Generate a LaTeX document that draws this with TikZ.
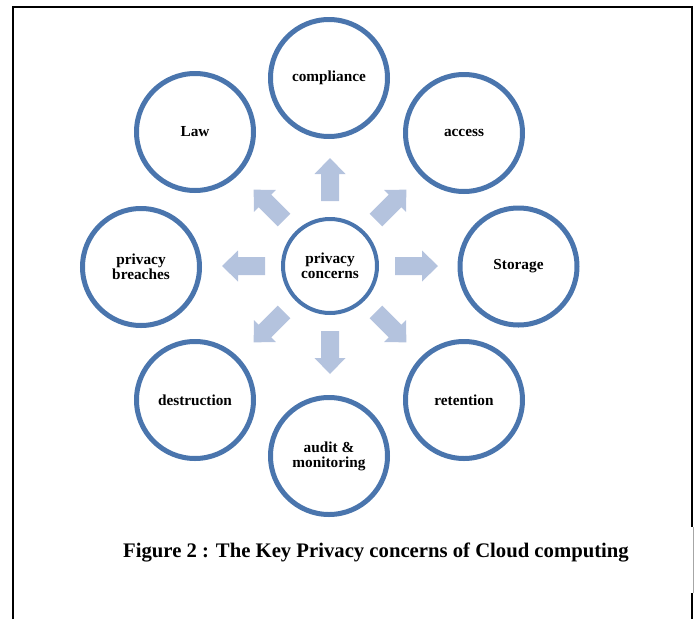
\documentclass[tikz,border=0pt]{standalone}
\usepackage{fontspec}
\setmainfont{Liberation Serif}
\definecolor{ringblue}{RGB}{74,117,173}
\definecolor{arrowblue}{RGB}{180,195,222}
\tikzset{
  ring/.style={circle, draw=ringblue, line width=5pt, minimum size=117pt, inner sep=0pt,
    align=center, font=\fontsize{15.3}{15}\selectfont\bfseries},
  hubring/.style={ring, line width=4pt, minimum size=94pt},
  blockarrow/.style={fill=arrowblue, draw=none},
  frameline/.style={line width=1.7pt, black},
}
\begin{document}
\begin{tikzpicture}[x=1pt,y=-1pt]
\useasboundingbox (0,0) rectangle (694,619);
% frame
\draw[frameline] (12.7,619) -- (12.7,7.3) -- (691.7,7.3) -- (691.7,527);
\draw[gray!70, line width=0.6pt] (693,527) -- (693,593);
\draw[frameline] (691.7,593) -- (691.7,619);
% nodes
\node[hubring] (hub) at (330,266) {privacy\\concerns};
\node[ring] (compliance) at (329,78) {compliance};
\node[ring] (access) at (464,133) {access};
\node[ring] (storage) at (518.5,266.5) {Storage};
\node[ring] (retention) at (464,400) {retention};
\node[ring] (audit) at (329,456) {audit \&\\monitoring};
\node[ring] (destruction) at (195,400) {destruction};
\node[ring] (breaches) at (141,267) {privacy\\breaches};
\node[ring] (law) at (195,132) {Law};
% block arrows
\foreach \a in {0,45,...,315}{
  \fill[blockarrow, shift={(hub.center)}, rotate=\a]
    (65,-9) -- (92,-9) -- (92,-15.5) -- (108,0) -- (92,15.5) -- (92,9) -- (65,9) -- cycle;
}
% caption
\node[anchor=base, font=\fontsize{20.7}{24}\selectfont\bfseries] (caption) at (376,557)
  {Figure 2 : The Key Privacy concerns of Cloud computing};
\end{tikzpicture}
\end{document}
